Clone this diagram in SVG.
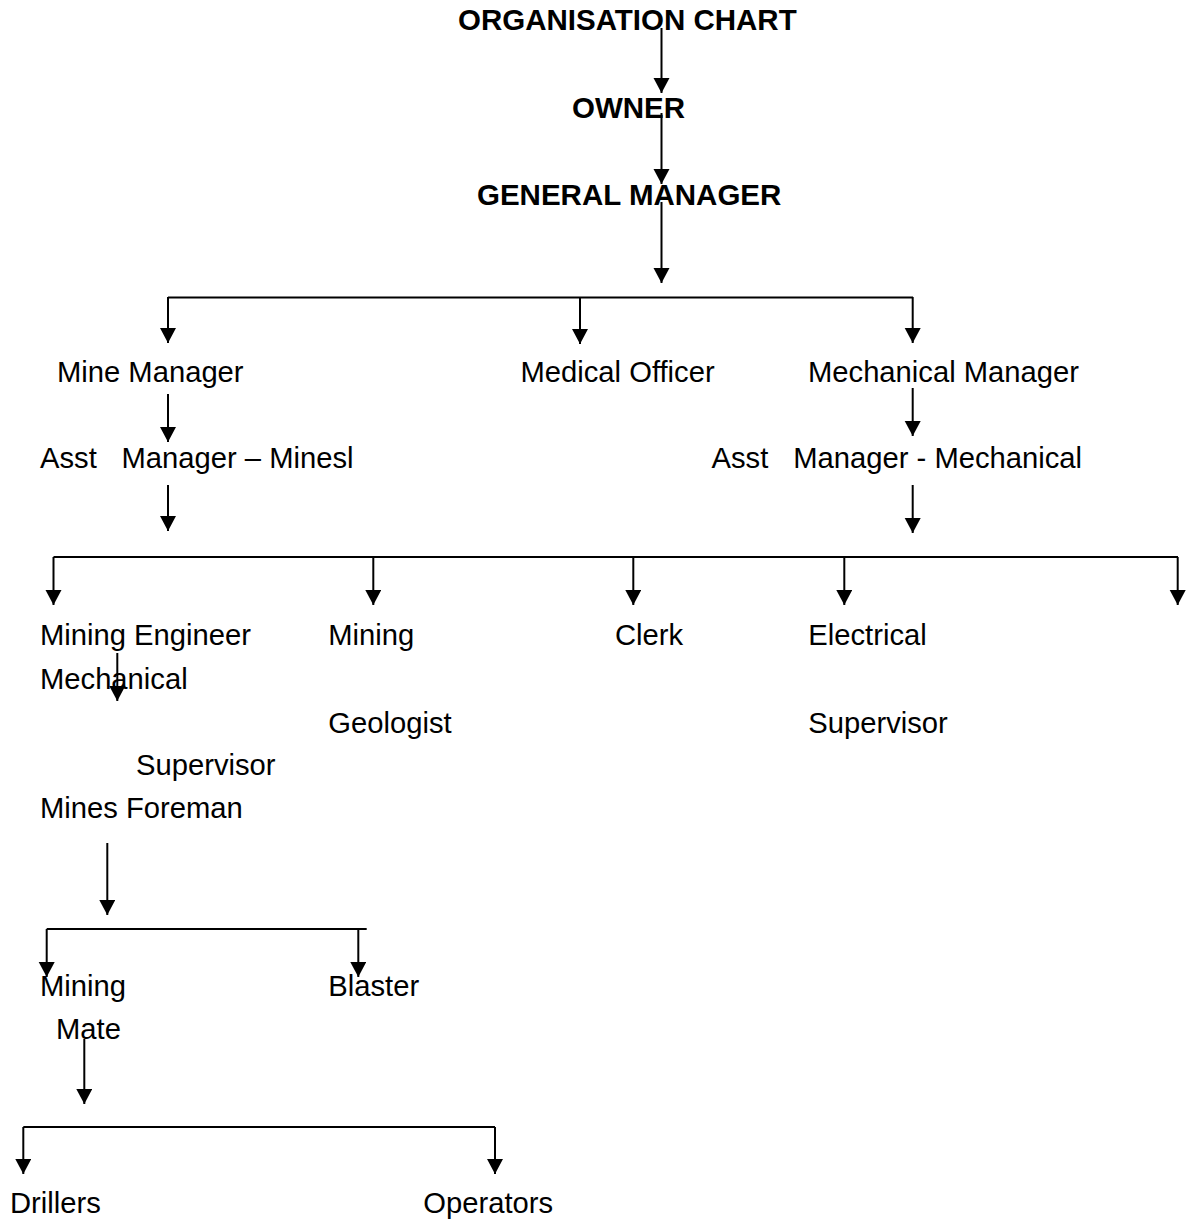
<svg xmlns="http://www.w3.org/2000/svg" width="1186" height="1224" viewBox="0 0 1186 1224">
<defs>
<style>
text{font-family:"Liberation Sans",Arial,sans-serif;font-size:29.2px;fill:#000}
.b{font-weight:bold;font-size:29.5px}
.c line,.c path{stroke:#000;stroke-width:2;fill:none}
.c .h{stroke-width:1.8}
</style>
<marker id="ah" markerUnits="userSpaceOnUse" markerWidth="17" markerHeight="17" refX="15" refY="8" orient="auto">
<path d="M0,0 L15,8 L0,16 z" fill="#000"/>
</marker>
</defs>
<rect width="1186" height="1224" fill="#fff"/>
<g id="connectors" class="c">
<line x1="661.5" y1="28" x2="661.5" y2="93" marker-end="url(#ah)"/>
<line x1="661.5" y1="113" x2="661.5" y2="184" marker-end="url(#ah)"/>
<line x1="661.5" y1="202" x2="661.5" y2="283" marker-end="url(#ah)"/>
<line class="h" x1="168" y1="297.5" x2="913" y2="297.5"/>
<line x1="168" y1="297" x2="168" y2="343" marker-end="url(#ah)"/>
<line x1="580" y1="297" x2="580" y2="344" marker-end="url(#ah)"/>
<line x1="912.7" y1="297" x2="912.7" y2="343" marker-end="url(#ah)"/>
<line x1="168" y1="394" x2="168" y2="442" marker-end="url(#ah)"/>
<line x1="912.7" y1="388" x2="912.7" y2="436" marker-end="url(#ah)"/>
<line x1="168" y1="485" x2="168" y2="531" marker-end="url(#ah)"/>
<line x1="912.7" y1="485" x2="912.7" y2="533" marker-end="url(#ah)"/>
<line class="h" x1="53.5" y1="557" x2="1178" y2="557"/>
<line x1="53.5" y1="557" x2="53.5" y2="605" marker-end="url(#ah)"/>
<line x1="373.3" y1="557" x2="373.3" y2="605" marker-end="url(#ah)"/>
<line x1="633.3" y1="557" x2="633.3" y2="605" marker-end="url(#ah)"/>
<line x1="844.3" y1="557" x2="844.3" y2="605" marker-end="url(#ah)"/>
<line x1="1177.7" y1="557" x2="1177.7" y2="605" marker-end="url(#ah)"/>
<line x1="117.3" y1="653" x2="117.3" y2="701" marker-end="url(#ah)"/>
<line x1="107.3" y1="843" x2="107.3" y2="915" marker-end="url(#ah)"/>
<line class="h" x1="46.7" y1="929" x2="366.7" y2="929"/>
<line x1="46.7" y1="929" x2="46.7" y2="977" marker-end="url(#ah)"/>
<line x1="358.3" y1="929" x2="358.3" y2="977" marker-end="url(#ah)"/>
<line x1="84.3" y1="1039" x2="84.3" y2="1104" marker-end="url(#ah)"/>
<line class="h" x1="23.3" y1="1127" x2="495" y2="1127"/>
<line x1="23.3" y1="1127" x2="23.3" y2="1174" marker-end="url(#ah)"/>
<line x1="495" y1="1127" x2="495" y2="1174" marker-end="url(#ah)"/>
</g>
<g id="title"><text class="b" x="458" y="30">ORGANISATION CHART</text></g>
<g id="owner"><text class="b" x="572" y="118">OWNER</text></g>
<g id="general-manager"><text class="b" x="477" y="205">GENERAL MANAGER</text></g>
<g id="mine-manager"><text x="57" y="381.5">Mine Manager</text></g>
<g id="medical-officer"><text x="520.5" y="381.5">Medical Officer</text></g>
<g id="mechanical-manager"><text x="808" y="381.5">Mechanical Manager</text></g>
<g id="asst-manager-mines"><text y="468"><tspan x="40">Asst</tspan><tspan x="121.5">Manager – Minesl</tspan></text></g>
<g id="asst-manager-mechanical"><text y="468"><tspan x="711.5">Asst</tspan><tspan x="793.3">Manager - Mechanical</tspan></text></g>
<g id="mining-engineer"><text x="40" y="645">Mining Engineer</text></g>
<g id="mechanical-supervisor"><text x="40" y="688.5">Mechanical</text><text x="136" y="775">Supervisor</text></g>
<g id="mines-foreman"><text x="40" y="818">Mines Foreman</text></g>
<g id="mining-geologist"><text x="328.3" y="645">Mining</text><text x="328.3" y="733">Geologist</text></g>
<g id="clerk"><text x="615" y="645">Clerk</text></g>
<g id="electrical-supervisor"><text x="808.3" y="645">Electrical</text><text x="808.3" y="733">Supervisor</text></g>
<g id="mining-mate"><text x="40" y="996">Mining</text><text x="56" y="1039">Mate</text></g>
<g id="blaster"><text x="328.3" y="996">Blaster</text></g>
<g id="drillers"><text x="10" y="1213">Drillers</text></g>
<g id="operators"><text x="423.3" y="1213">Operators</text></g>
</svg>
